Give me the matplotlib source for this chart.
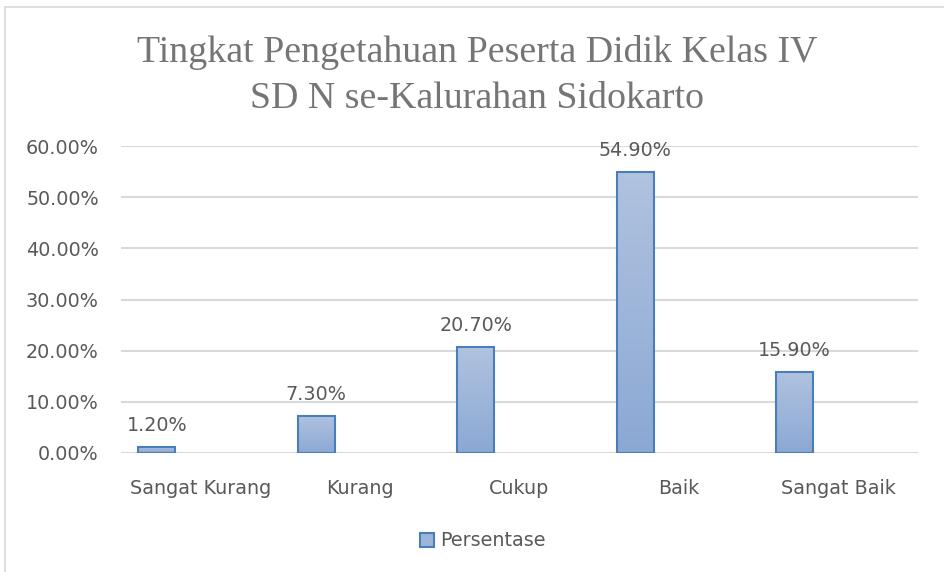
import matplotlib
matplotlib.use("Agg")
import matplotlib.pyplot as plt
import numpy as np
from matplotlib.patches import Rectangle
from matplotlib.lines import Line2D
from matplotlib.colors import LinearSegmentedColormap

categories = ["Sangat Kurang", "Kurang", "Cukup", "Baik", "Sangat Baik"]
values = [0.012, 0.073, 0.207, 0.549, 0.159]
value_labels = ["1.20%", "7.30%", "20.70%", "54.90%", "15.90%"]
yticks = [0.0, 0.1, 0.2, 0.3, 0.4, 0.5, 0.6]
ytick_labels = ["0.00%", "10.00%", "20.00%", "30.00%", "40.00%", "50.00%", "60.00%"]
series_name = "Persentase"
title_lines = ["Tingkat Pengetahuan Peserta Didik Kelas IV", "SD N se-Kalurahan Sidokarto"]

W, H = 944, 572
fig = plt.figure(figsize=(W / 100, H / 100), dpi=100)
fig.patch.set_facecolor("white")

txt_color = "#595959"
grid_color = "#d9d9d9"
sans = "DejaVu Sans"
fs = 13.8

# outer chart frame (extends beyond image right/bottom)
fig.add_artist(Line2D([5 / W, 5 / W], [0, 1 - 7 / H], transform=fig.transFigure, color=grid_color, lw=1.2))
fig.add_artist(Line2D([5 / W, 1], [1 - 7 / H, 1 - 7 / H], transform=fig.transFigure, color=grid_color, lw=1.2))

ax = fig.add_axes([121 / W, 1 - 453 / H, (918 - 121) / W, (453 - 146) / H])
for s in ax.spines.values():
    s.set_visible(False)
ax.set_yticks(yticks)
ax.set_yticklabels(ytick_labels)
ax.set_xticks(range(len(categories)))
ax.set_xticklabels(categories)
ax.tick_params(axis="both", length=0, labelsize=fs, labelcolor=txt_color)
ax.tick_params(axis="y", pad=16)
ax.tick_params(axis="x", pad=18.5)
for lab in ax.get_xticklabels() + ax.get_yticklabels():
    lab.set_fontfamily(sans)
ax.yaxis.grid(True, color=grid_color, lw=1.5)
ax.set_axisbelow(True)

x = np.arange(len(categories)) - 0.275
bw = 0.232
edge = "#4a7ebb"
bars = ax.bar(x, values, width=bw, facecolor="none", edgecolor=edge, lw=1.5, zorder=3)

grad = np.linspace(0, 1, 256).reshape(-1, 1)
cmap = LinearSegmentedColormap.from_list("g", ["#8ba8d4", "#b0c3df"])
for b in bars:
    x0, y0 = b.get_x(), b.get_y()
    w, h = b.get_width(), b.get_height()
    im = ax.imshow(grad, cmap=cmap, aspect="auto", origin="lower",
                   extent=[x0, x0 + w, y0, y0 + h], zorder=2)
    im.set_clip_path(b)

for xi, v, lab in zip(x, values, value_labels):
    ax.annotate(lab, (xi, v), xytext=(0, 8.5), textcoords="offset points",
                ha="center", va="bottom", fontsize=fs, color=txt_color, family=sans)

ax.set_xlim(-0.5, len(categories) - 0.5)
ax.set_ylim(0, 0.6)

# title
fig.text(477 / W, 1 - 62 / H, title_lines[0], ha="center", va="baseline",
         family="Liberation Serif", fontsize=27.3, color="#757575")
fig.text(477 / W, 1 - 108 / H, title_lines[1], ha="center", va="baseline",
         family="Liberation Serif", fontsize=27.3, color="#757575")

handle = Rectangle((0, 0), 1, 1, facecolor="#9db5da", edgecolor=edge, lw=1.5)
leg = fig.legend([handle], [series_name], loc="center",
                 bbox_to_anchor=(483 / W, 1 - 541 / H), bbox_transform=fig.transFigure,
                 frameon=False, handlelength=0.7, handleheight=0.7, handletextpad=0.35,
                 prop={"family": sans, "size": fs})
for t in leg.get_texts():
    t.set_color(txt_color)

fig.savefig("out.png", dpi=100)
